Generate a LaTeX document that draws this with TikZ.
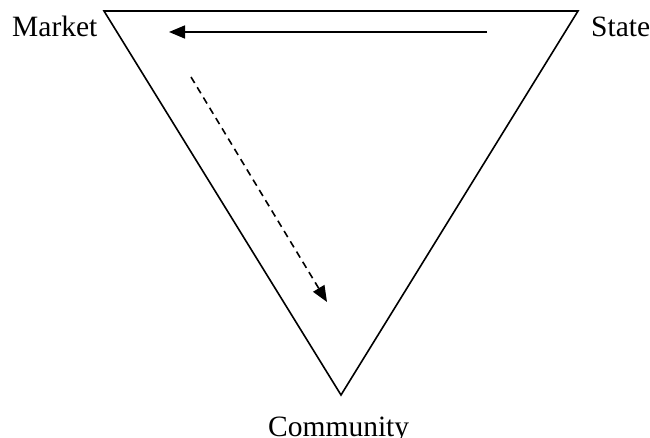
\documentclass[tikz,border=0pt]{standalone}
\usepackage{fontspec}
\setmainfont{Liberation Serif}
\usetikzlibrary{arrows.meta}
\begin{document}
\begin{tikzpicture}[x=1pt,y=-1pt,
  lbl/.style={anchor=base west,inner sep=0pt,font=\fontsize{29.5}{34}\selectfont},
  edge/.style={line width=1.6pt,line join=miter},
  arr/.style={line width=1.6pt,-{Triangle[length=16pt,width=13pt]}}]
\useasboundingbox[clip] (0,0) rectangle (650,438);
\coordinate (m) at (104,11);
\coordinate (s) at (578,11);
\coordinate (c) at (341,395);
\draw[edge] (m) -- (s) -- (c) -- cycle;
\node[lbl] (market) at (12,36.5) {Market};
\node[lbl] (state) at (591,36.5) {State};
\node[lbl] (community) at (268,436) {Community};
\coordinate (a1) at (487,32);
\coordinate (a2) at (169,32);
\draw[arr] (a1) -- (a2);
\coordinate (d1) at (191,77);
\coordinate (d2) at (327,302);
\draw[arr,dash pattern=on 7pt off 5pt] (d1) -- (d2);
\end{tikzpicture}
\end{document}
